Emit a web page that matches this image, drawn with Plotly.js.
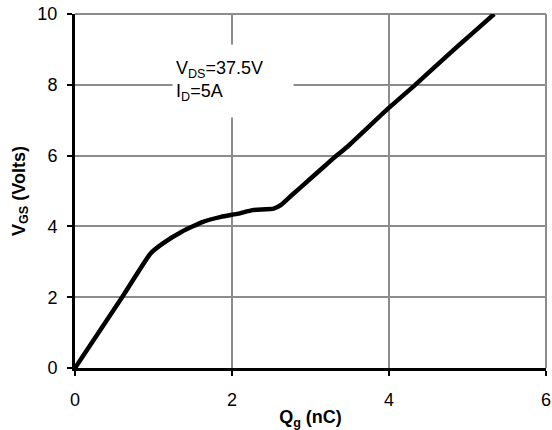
<!DOCTYPE html>
<html>
<head>
<script src="https://cdn.plot.ly/plotly-3.0.1.min.js"></script>
<style>html,body{margin:0;padding:0;background:#fff;}#chart{width:552px;height:430px;}</style>
</head>
<body>
<div id="chart"></div>
<script>
const qg = [0, 0.60, 0.96, 1.12, 1.36, 1.63, 1.86, 2.08, 2.26, 2.53, 2.62, 2.76, 2.98, 3.29, 3.47, 3.97, 4.33, 4.82, 5.04, 5.34];
const vgs = [0, 2.0, 3.23, 3.52, 3.85, 4.13, 4.27, 4.36, 4.46, 4.50, 4.60, 4.88, 5.31, 5.92, 6.25, 7.29, 7.99, 8.98, 9.41, 10.0];
const xTicks = [0, 2, 4, 6];
const yTicks = [0, 2, 4, 6, 8, 10];

const fam = '"Liberation Sans", Arial, Helvetica, sans-serif';
const font = {family: fam, size: 18, color: '#000'};
const data = [{
  x: qg, y: vgs, type: 'scatter', mode: 'lines',
  line: {color: '#000', width: 4.5, shape: 'spline', smoothing: 0.4},
  showlegend: false, hoverinfo: 'skip'
}];
const layout = {
  width: 552, height: 430,
  margin: {l: 75, r: 6, t: 14, b: 62},
  paper_bgcolor: '#fff', plot_bgcolor: '#fff',
  font: font,
  xaxis: {
    range: [0, 6], tickvals: xTicks, ticktext: xTicks.map(String),
    showgrid: true, gridcolor: '#8c8c8c', gridwidth: 2,
    showline: true, linecolor: '#000', linewidth: 3,
    ticks: 'outside', ticklen: 5, tickwidth: 2, tickcolor: '#000',
    zeroline: false, tickfont: font, ticklabelstandoff: 8,
    title: {text: '<b>Q<sub>g</sub> (nC)</b>', font: {family: fam, size: 18, color: '#000'}, standoff: 4}
  },
  yaxis: {
    range: [0, 10], tickvals: yTicks, ticktext: yTicks.map(String),
    showgrid: true, gridcolor: '#8c8c8c', gridwidth: 2,
    showline: true, linecolor: '#000', linewidth: 3,
    ticks: 'outside', ticklen: 5, tickwidth: 2, tickcolor: '#000',
    zeroline: false, tickfont: font, ticklabelstandoff: 6,
    title: {text: '<b>V<sub>GS</sub> (Volts)</b>', font: {family: fam, size: 18, color: '#000'}, standoff: 8}
  },
  shapes: [
    {type: 'line', xref: 'paper', yref: 'paper', x0: 0, x1: 1, y0: 1, y1: 1, line: {color: '#8c8c8c', width: 2}, layer: 'between'},
    {type: 'line', xref: 'paper', yref: 'paper', x0: 1, x1: 1, y0: 0, y1: 1, line: {color: '#8c8c8c', width: 2}, layer: 'between'}
  ],
  annotations: [{
    x: 1.23, y: 8.12, xref: 'x', yref: 'y', xanchor: 'left', yanchor: 'middle',
    text: 'V<sub>DS</sub>=37.5V<br>I<sub>D</sub>=5A', align: 'left', showarrow: false,
    bgcolor: '#fff', width: 114, height: 66, borderpad: 3,
    font: {family: fam, size: 18, color: '#000'}
  }]
};
Plotly.newPlot('chart', data, layout, {displayModeBar: false, staticPlot: true});
</script>
</body>
</html>
